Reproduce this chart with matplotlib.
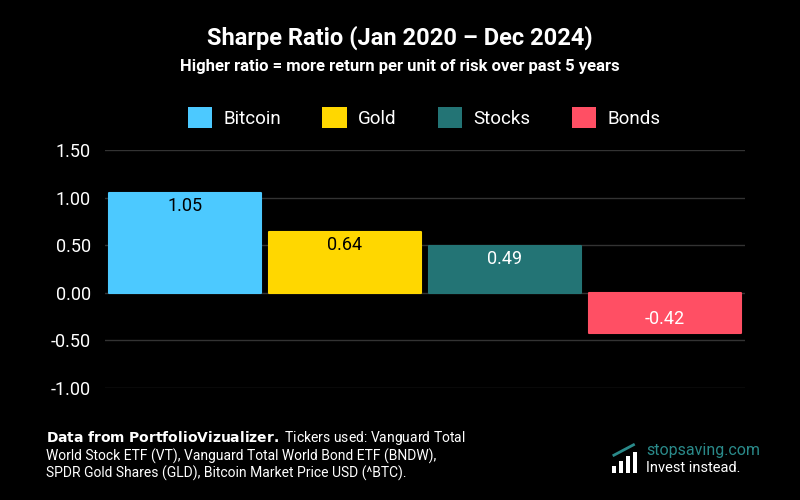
import matplotlib
matplotlib.use("Agg")
import matplotlib.pyplot as plt
from matplotlib.patches import Patch

assets = ["Bitcoin", "Gold", "Stocks", "Bonds"]
sharpe = [1.05, 0.64, 0.49, -0.42]
colors = ["#4CC9FF", "#FFD700", "#237475", "#FF4F64"]
label_colors = ["black", "black", "white", "white"]
yticks = [-1.0, -0.5, 0.0, 0.5, 1.0, 1.5]

plt.rcParams["font.family"] = ["Roboto", "DejaVu Sans"]
fig = plt.figure(figsize=(8, 5), dpi=100, facecolor="black")
ax = fig.add_axes([0.131, 0.224, 0.800, 0.476], facecolor="black")

x = range(len(assets))
ax.bar(x, sharpe, width=0.95, color=colors, edgecolor=colors,
       linewidth=1.5, joinstyle="round", zorder=3)
for i, v in enumerate(sharpe):
    ypos = v - 0.14 if v > 0 else -0.27
    ax.text(i, ypos, f"{v:.2f}", ha="center", va="center",
            fontsize=13, color=label_colors[i], zorder=4)

ax.set_xlim(-0.5, len(assets) - 0.5)
ax.set_ylim(-1.0, 1.5)
ax.set_yticks(yticks)
ax.set_yticklabels([f"{t:.2f}" for t in yticks], color="white", fontsize=13)
ax.set_xticks([])
ax.tick_params(axis="y", length=0, pad=10)
ax.grid(axis="y", color="#333333", linewidth=1, zorder=0)
for s in ax.spines.values():
    s.set_visible(False)

fig.text(0.5, 0.91, "Sharpe Ratio (Jan 2020 \u2013 Dec 2024)", ha="center",
         color="white", fontsize=17, fontweight="bold")
fig.text(0.5, 0.858, "Higher ratio = more return per unit of risk over past 5 years",
         ha="center", color="white", fontsize=12, fontweight="bold")

handles = [Patch(facecolor=c, label=a) for a, c in zip(assets, colors)]
leg = fig.legend(handles=handles, loc="center", bbox_to_anchor=(0.53, 0.765),
                 ncol=4, frameon=False, fontsize=13.5, handlelength=1.3,
                 handleheight=1.3, columnspacing=2.2, handletextpad=0.6)
for t in leg.get_texts():
    t.set_color("white")

fig.text(0.057, 0.045,
         "$\\bf{Data\\ from\\ PortfolioVizualizer.}$ Tickers used: Vanguard Total\n"
         "World Stock ETF (VT), Vanguard Total World Bond ETF (BNDW),\n"
         "SPDR Gold Shares (GLD), Bitcoin Market Price USD (^BTC).",
         color="white", fontsize=10, linespacing=1.15)

# logo
lx = fig.add_axes([0.763, 0.055, 0.035, 0.06], facecolor="none")
lx.bar([0, 1, 2, 3], [0.3, 0.5, 0.7, 0.9], width=0.6, color="white")
lx.plot([0, 2.8], [0.75, 1.2], color="#2A8A8A", linewidth=2)
lx.set_xlim(-0.5, 3.5)
lx.set_ylim(0, 1.3)
lx.axis("off")
fig.text(0.808, 0.09, "stopsaving.com", color="#2A8A8A", fontsize=11.5)
fig.text(0.808, 0.055, "Invest instead.", color="white", fontsize=10.5)

fig.savefig("out.png", facecolor="black")
